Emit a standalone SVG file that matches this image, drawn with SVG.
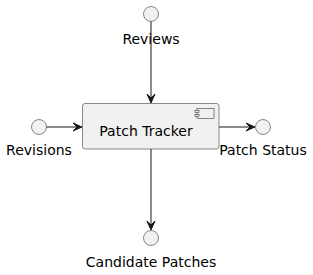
<svg xmlns="http://www.w3.org/2000/svg" width="313" height="275" viewBox="0 0 313 275">
<style>
.iface{fill:#F1F1F1;stroke:#181818;stroke-width:0.5}
.comp{fill:#F1F1F1;stroke:#181818;stroke-width:0.5}
.lbl{font-family:"DejaVu Sans",sans-serif;font-size:14px;fill:#000000;text-anchor:middle}
.edge{stroke:#181818;stroke-width:1;fill:none}
.head{fill:#181818;stroke:#181818;stroke-width:1}
</style>
<rect width="313" height="275" fill="#FFFFFF"/>
<g id="patch-tracker">
<rect class="comp" x="82.5" y="103.5" width="136.5" height="45.5" rx="2.5" ry="2.5"/>
<rect class="comp" x="197" y="108.5" width="17" height="10"/>
<rect class="comp" x="195" y="110.5" width="4" height="2"/>
<rect class="comp" x="195" y="114.5" width="4" height="2"/>
<text class="lbl" x="146" y="136">Patch Tracker</text>
</g>
<g id="reviews">
<circle class="iface" cx="151" cy="14" r="7.5"/>
<text class="lbl" x="151" y="44">Reviews</text>
</g>
<g id="revisions">
<circle class="iface" cx="39" cy="127" r="7.5"/>
<text class="lbl" x="39" y="155">Revisions</text>
</g>
<g id="patch-status">
<circle class="iface" cx="263" cy="127" r="7.5"/>
<text class="lbl" x="263" y="155">Patch Status</text>
</g>
<g id="candidate-patches">
<circle class="iface" cx="151" cy="238" r="7.5"/>
<text class="lbl" x="151" y="267">Candidate Patches</text>
</g>
<g id="connectors">
<line class="edge" x1="151" y1="21.5" x2="151" y2="98"/>
<polygon class="head" points="147,94 151,103 155,94 151,98"/>
<line class="edge" x1="46.5" y1="127" x2="77" y2="127"/>
<polygon class="head" points="73,123 82,127 73,131 77,127"/>
<line class="edge" x1="219" y1="127" x2="250" y2="127"/>
<polygon class="head" points="246,123 255,127 246,131 250,127"/>
<line class="edge" x1="151" y1="149" x2="151" y2="225"/>
<polygon class="head" points="147,221 151,230 155,221 151,225"/>
</g>
</svg>
